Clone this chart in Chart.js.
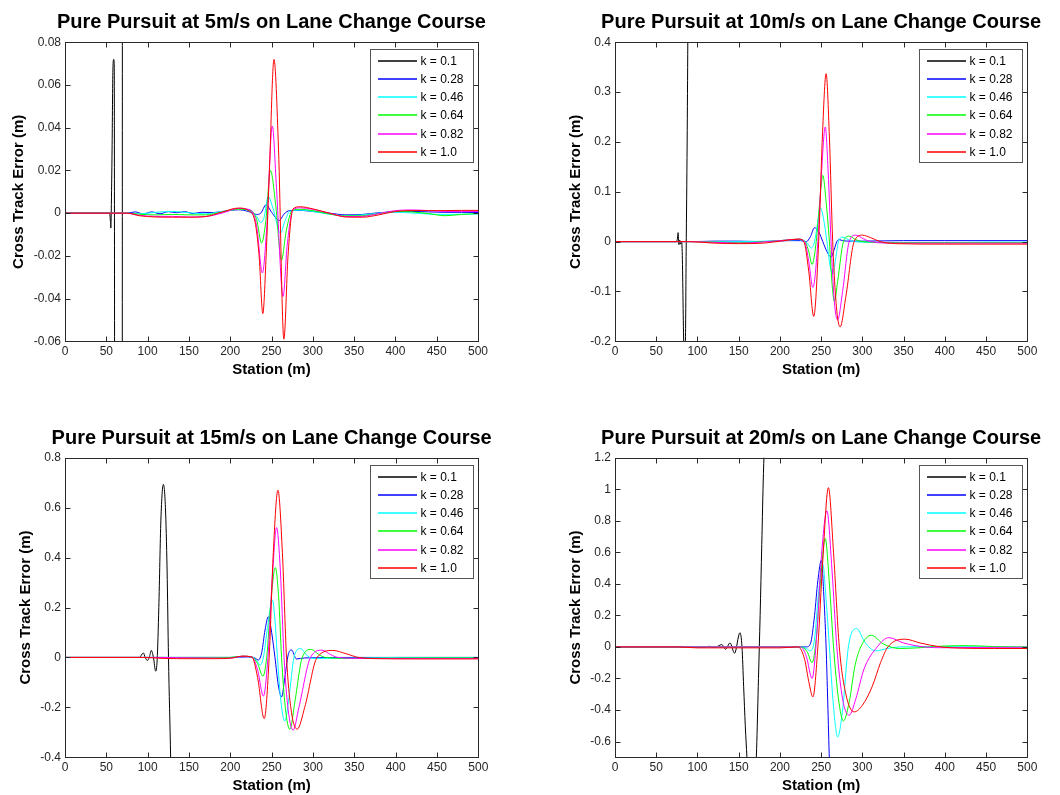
<!DOCTYPE html>
<html>
<head>
<meta charset="utf-8">
<script src="https://cdn.jsdelivr.net/npm/chart.js@4"></script>
<style>
  html, body { margin: 0; padding: 0; background: #fff; overflow: hidden; }
  canvas { position: absolute; }
</style>
</head>
<body>
<canvas id="c5" width="530" height="397" style="left:0;top:0"></canvas>
<canvas id="c10" width="530" height="397" style="left:530px;top:0"></canvas>
<canvas id="c15" width="530" height="398" style="left:0;top:397px"></canvas>
<canvas id="c20" width="530" height="398" style="left:530px;top:397px"></canvas>
<script>
// tick labels
const X_TICKS = [0, 50, 100, 150, 200, 250, 300, 350, 400, 450, 500];
const Y_TICKS_5 = [-0.06, -0.04, -0.02, 0, 0.02, 0.04, 0.06, 0.08];
const Y_TICKS_10 = [-0.2, -0.1, 0, 0.1, 0.2, 0.3, 0.4];
const Y_TICKS_15 = [-0.4, -0.2, 0, 0.2, 0.4, 0.6, 0.8];
const Y_TICKS_20 = [-0.6, -0.4, -0.2, 0, 0.2, 0.4, 0.6, 0.8, 1, 1.2];
const K_LABELS = ['k = 0.1', 'k = 0.28', 'k = 0.46', 'k = 0.64', 'k = 0.82', 'k = 1.0'];
const K_COLORS = ['#000000', '#0000ff', '#00ffff', '#00ff00', '#ff00ff', '#ff0000'];

// ---- 5 m/s : station (m) / cross track error (m)
const st5_k10 = [0, 54, 55, 55.5, 56, 57, 58, 59, 59.6, 60.5, 64, 69.2, 69.6, 74];
const ct5_k10 = [0, 0, -0.004, -0.007, 0.001, 0.03, 0.067, 0.072, 0.07, -0.3, -0.6, -0.3, 0.3, 0.6];
const st5_k28 = [0, 75, 85, 95, 105, 115, 125, 135, 145, 155, 165, 180, 195, 210, 222, 232, 237, 243.5, 250, 259.5, 265, 272, 285, 300, 320, 340, 360, 380, 400, 420, 440, 460, 480, 500];
const ct5_k28 = [0, 0, 0.0006, -0.0004, 0.0006, -0.0003, 0.0007, 0.0002, 0.0007, -0.0002, 0.0004, 0.0003, 0.001, 0.0016, 0.0008, -0.0006, 0, 0.0039, 0.0005, -0.0034, -0.0005, 0.0012, 0.0013, 0.0008, 0, -0.0008, -0.0006, 0.0002, 0.0006, 0.0008, 0.0006, 0.0004, 0.0004, 0.0003];
const st5_k46 = [0, 75, 90, 110, 130, 150, 170, 190, 210, 225, 232, 236.8, 241, 246, 252, 260.8, 266, 272, 285, 300, 320, 340, 360, 380, 400, 420, 440, 460, 480, 500];
const ct5_k46 = [0, 0, -0.0003, 0.0004, 0.0008, 0.0002, -0.0003, 0.0008, 0.0018, 0.001, -0.0015, -0.0044, -0.002, 0.0078, 0.002, -0.0094, -0.004, 0.0008, 0.0014, 0.0008, -0.0005, -0.0012, -0.0008, 0, 0.0004, 0.0001, -0.0004, -0.0006, -0.0005, -0.0004];
const st5_k64 = [0, 75, 90, 110, 130, 150, 170, 190, 210, 225, 232, 238, 243, 248.8, 255, 262, 268, 275, 285, 300, 320, 340, 360, 380, 400, 420, 440, 460, 480, 500];
const ct5_k64 = [0, 0, -0.0005, -0.0008, -0.0006, -0.0008, -0.0008, 0.0005, 0.0018, 0.0012, -0.003, -0.014, -0.004, 0.02, 0.004, -0.022, -0.008, 0.0012, 0.0018, 0.0012, -0.0004, -0.0013, -0.0012, -0.0002, 0.0008, 0.0006, -0.0002, -0.0012, -0.0006, -0.0002];
const st5_k82 = [0, 75, 90, 110, 130, 150, 170, 190, 210, 225, 232, 239, 244, 251, 256, 264, 269, 276, 285, 300, 320, 340, 360, 380, 400, 420, 440, 460, 480, 500];
const ct5_k82 = [0, 0, -0.001, -0.0015, -0.0015, -0.0018, -0.0016, 0, 0.0022, 0.0014, -0.006, -0.028, -0.008, 0.0408, 0.012, -0.039, -0.015, 0.0015, 0.0025, 0.0018, 0, -0.0016, -0.0015, -0.0002, 0.0012, 0.0015, 0.0012, 0.0008, 0.0008, 0.0008];
const st5_k100 = [0, 75, 90, 110, 130, 150, 170, 190, 210, 222, 230, 235, 239.5, 243.5, 247.5, 253, 258.5, 265, 270, 276, 285, 300, 320, 340, 360, 380, 400, 420, 440, 460, 480, 500];
const ct5_k100 = [0, 0, -0.0012, -0.0018, -0.0019, -0.0019, -0.0016, 0.0005, 0.0024, 0.0012, -0.004, -0.02, -0.047, -0.02, 0.02, 0.072, 0.03, -0.059, -0.02, 0.002, 0.003, 0.002, 0, -0.0018, -0.0019, -0.0008, 0.0008, 0.0012, 0.0012, 0.0012, 0.0013, 0.0013];

// ---- 10 m/s
const st10_k10 = [0, 74, 75.5, 76.5, 77.5, 78.5, 79.5, 80.5, 81.5, 83.3, 84.5, 85.5, 86.3, 87.5, 88.3, 90];
const ct10_k10 = [0, 0, 0.004, 0.018, -0.006, 0.003, -0.005, 0, -0.02, -0.2, -0.25, -0.19, -0.02, 0.2, 0.4, 0.8];
const st10_k28 = [0, 95, 120, 150, 180, 210, 225, 232, 237, 242, 247, 252, 257, 262, 266, 269, 272, 276, 285, 300, 350, 400, 450, 500];
const ct10_k28 = [0, 0, 0.001, 0.001, 0, 0.002, 0.002, 0, 0.01, 0.028, 0.02, 0, -0.02, -0.031, -0.015, 0, 0.004, 0.002, 0.001, 0.001, 0.002, 0.002, 0.002, 0.002];
const st10_k46 = [0, 95, 150, 200, 222, 230, 234, 238, 242, 245.5, 249, 253, 257, 260.5, 264, 268, 271, 276, 283, 290, 330, 400, 450, 500];
const ct10_k46 = [0, 0, 0, 0.002, 0.004, 0.001, -0.005, -0.013, 0, 0.035, 0.068, 0.045, 0, -0.045, -0.065, -0.03, 0, 0.009, 0.004, 0, -0.002, -0.002, -0.001, -0.001];
const st10_k64 = [0, 95, 150, 200, 222, 230, 235, 239, 244, 248, 252, 256, 260, 263, 266, 270, 277, 284, 292, 300, 340, 400, 450, 500];
const ct10_k64 = [0, 0, -0.002, 0.002, 0.005, 0.001, -0.02, -0.046, 0, 0.075, 0.133, 0.08, 0, -0.08, -0.12, -0.08, 0, 0.011, 0.004, 0, -0.002, -0.002, -0.002, -0.002];
const st10_k82 = [0, 95, 150, 200, 222, 230, 235, 240, 246, 250.5, 255, 258.5, 262, 266, 270, 276, 284, 292, 301, 310, 340, 400, 450, 500];
const ct10_k82 = [0, 0, -0.003, 0.002, 0.005, 0, -0.04, -0.092, 0, 0.14, 0.23, 0.14, 0, -0.12, -0.157, -0.1, 0, 0.013, 0.006, 0, -0.003, -0.003, -0.003, -0.003];
const st10_k100 = [0, 90, 120, 150, 180, 205, 222, 229, 235, 241, 247, 251.5, 256, 260, 264, 268.5, 273, 280, 290, 300, 310, 322, 340, 400, 450, 500];
const ct10_k100 = [0, 0, -0.003, -0.004, -0.003, 0.002, 0.005, 0, -0.06, -0.15, 0, 0.21, 0.337, 0.21, 0, -0.13, -0.171, -0.11, 0, 0.013, 0.008, 0, -0.004, -0.005, -0.005, -0.005];

// ---- 15 m/s
const st15_k10 = [0, 90, 94.8, 97, 99.6, 102, 104.4, 107, 109.7, 111.5, 113.5, 116, 119, 121.5, 123.5, 125.2, 127.8, 130];
const ct15_k10 = [0, 0, 0.018, 0, -0.012, 0, 0.028, 0, -0.055, -0.01, 0.2, 0.55, 0.693, 0.6, 0.35, 0, -0.4, -0.8];
const st15_k28 = [0, 110, 150, 200, 220, 228, 234, 238, 242, 246, 250, 254, 258, 262, 266, 270, 274, 280, 290, 350, 400, 450, 500];
const ct15_k28 = [0, 0, 0, 0, 0.002, 0, -0.01, 0.02, 0.11, 0.163, 0.1, 0, -0.11, -0.158, -0.08, 0.01, 0.03, -0.006, -0.002, 0, 0, 0, 0];
const st15_k46 = [0, 110, 200, 215, 226, 232, 236, 240, 245, 251, 254, 257, 261, 266, 271, 277, 285, 292, 300, 350, 400, 450, 500];
const ct15_k46 = [0, 0, 0, 0.004, 0.002, -0.012, -0.031, 0, 0.12, 0.23, 0.15, 0, -0.17, -0.255, -0.16, 0, 0.036, 0.01, -0.004, -0.003, 0, 0, 0];
const st15_k64 = [0, 110, 200, 215, 226, 233, 239.5, 244, 249, 254.4, 258.5, 262, 266.5, 272, 278, 287, 298, 307, 315, 350, 400, 450, 500];
const ct15_k64 = [0, 0, 0, 0.005, 0.002, -0.025, -0.075, 0, 0.22, 0.36, 0.24, 0, -0.2, -0.288, -0.18, 0, 0.032, 0.012, 0, -0.004, -0.003, -0.002, -0.002];
const st15_k82 = [0, 110, 200, 215, 226, 233, 240, 245.5, 251, 256, 260.5, 265, 270, 276, 283, 297, 311, 321, 330, 360, 400, 450, 500];
const ct15_k82 = [0, 0, -0.003, 0.005, 0.002, -0.05, -0.155, 0, 0.33, 0.52, 0.35, 0, -0.21, -0.291, -0.2, 0, 0.029, 0.012, 0, -0.004, -0.004, -0.004, -0.004];
const st15_k100 = [0, 93, 120, 150, 180, 200, 215, 226, 233, 241, 247, 252, 257.6, 263, 268, 274, 281, 290, 305, 324, 340, 355, 380, 420, 460, 500];
const ct15_k100 = [0, 0, -0.004, -0.005, -0.005, -0.003, 0.005, 0.002, -0.08, -0.245, 0, 0.42, 0.67, 0.42, 0, -0.22, -0.287, -0.2, 0, 0.028, 0.015, 0, -0.005, -0.006, -0.006, -0.006];

// ---- 20 m/s
const st20_k10 = [0, 75, 100, 110, 115, 120, 125, 129.5, 134, 139.5, 145, 151.5, 154, 156, 158, 160, 163, 167, 170, 172, 174, 176, 178, 180, 183];
const ct20_k10 = [0, 0, -0.004, 0, 0.004, -0.004, 0.005, 0.015, -0.015, 0.025, -0.04, 0.09, 0, -0.25, -0.5, -0.7, -1.0, -1.1, -0.9, -0.6, -0.2, 0.2, 0.65, 1.1, 1.5];
const st20_k28 = [0, 150, 200, 225, 232, 237, 242, 246, 250.4, 253, 256, 258, 260, 262];
const ct20_k28 = [0, 0, 0, 0, 0, 0.02, 0.2, 0.42, 0.55, 0.35, 0, -0.35, -0.72, -1.0];
const st20_k46 = [0, 150, 200, 225, 232, 237, 242, 247, 252, 256, 260, 265, 270, 276, 283, 293, 303, 316, 330, 345, 400, 450, 500];
const ct20_k46 = [0, 0, 0, 0, -0.01, -0.025, 0.05, 0.35, 0.524, 0.3, 0, -0.38, -0.571, -0.4, 0, 0.116, 0.03, -0.025, -0.01, 0, 0.002, 0, 0];
const st20_k64 = [0, 150, 200, 225, 233, 239, 244, 249, 255, 260, 265, 271, 277, 284, 291, 298, 311, 325, 345, 370, 400, 430, 460, 500];
const ct20_k64 = [0, 0, 0, 0, -0.03, -0.1, 0.05, 0.4, 0.687, 0.4, 0, -0.33, -0.469, -0.35, -0.12, 0, 0.074, 0.02, -0.01, -0.005, 0.006, 0.008, 0.002, 0];
const st20_k82 = [0, 150, 200, 225, 232, 239, 245, 250, 257, 263, 269, 276, 284, 292, 302, 318, 332, 350, 375, 400, 450, 500];
const ct20_k82 = [0, 0, 0, 0, -0.06, -0.2, 0.1, 0.55, 0.863, 0.5, 0, -0.33, -0.433, -0.33, -0.14, 0, 0.059, 0.025, 0, -0.005, -0.003, -0.002];
const st20_k100 = [0, 75, 100, 150, 200, 222, 230, 235, 240, 246, 252, 258.8, 265, 272, 280, 290, 300, 312, 322, 331, 352, 370, 395, 420, 460, 500];
const ct20_k100 = [0, 0, -0.006, -0.006, -0.006, 0, -0.08, -0.22, -0.317, 0, 0.55, 1.01, 0.6, 0, -0.3, -0.412, -0.37, -0.25, -0.1, 0, 0.049, 0.025, 0, -0.008, -0.01, -0.01];

const FONT = "'Liberation Sans', Arial, sans-serif";

// box, inside ticks, legend and title drawn the MATLAB way
const matlabAxes = {
  id: 'matlabAxes',
  afterDraw(chart, args, opts) {
    const { ctx, chartArea: a, scales: { x, y } } = chart;
    const L = Math.round(a.left) + 0.5, R = Math.round(a.right) + 0.5;
    const T = Math.round(a.top) + 0.5, B = Math.round(a.bottom) + 0.5;
    ctx.save();
    ctx.strokeStyle = '#2a2a2a';
    ctx.lineWidth = 1;
    ctx.beginPath();
    x.ticks.forEach(t => {
      const px = Math.round(x.getPixelForValue(t.value)) + 0.5;
      ctx.moveTo(px, B); ctx.lineTo(px, B - 5);
      ctx.moveTo(px, T); ctx.lineTo(px, T + 5);
    });
    y.ticks.forEach(t => {
      const py = Math.round(y.getPixelForValue(t.value)) + 0.5;
      ctx.moveTo(L, py); ctx.lineTo(L + 5, py);
      ctx.moveTo(R, py); ctx.lineTo(R - 5, py);
    });
    ctx.stroke();
    ctx.strokeRect(L, T, R - L, B - T);

    // legend
    const bw = 103, bh = 113;
    const bx = Math.round(a.right - 5 - bw) + 0.5, by = Math.round(a.top + 7) + 0.5;
    ctx.fillStyle = '#fff';
    ctx.fillRect(bx, by, bw, bh);
    ctx.strokeStyle = '#555';
    ctx.strokeRect(bx, by, bw, bh);
    ctx.font = '12px ' + FONT;
    ctx.textBaseline = 'middle';
    ctx.textAlign = 'left';
    chart.data.datasets.forEach((ds, i) => {
      const ly = Math.round(by + 11.3 + i * 18.2);
      ctx.strokeStyle = ds.borderColor;
      ctx.lineWidth = 1.6;
      ctx.beginPath();
      ctx.moveTo(bx + 7.5, ly); ctx.lineTo(bx + 46.5, ly);
      ctx.stroke();
      ctx.fillStyle = '#000';
      ctx.fillText(ds.label, bx + 50, ly + 0.5);
    });

    // title
    ctx.font = 'bold 20px ' + FONT;
    ctx.textAlign = 'center';
    ctx.fillStyle = '#000';
    ctx.fillText(opts.text, (a.left + a.right) / 2, opts.y);
    ctx.restore();
  }
};

function makeSeries(stations, errors) {
  return stations.map((s, i) => ({ x: s, y: errors[i] }));
}

function buildChart(id, title, stations, errors, yMin, yMax, yTicks, lay) {
  const datasets = stations.map((st, i) => ({
    label: K_LABELS[i],
    data: makeSeries(st, errors[i]),
    borderColor: K_COLORS[i],
    borderWidth: 1,
    pointRadius: 0,
    fill: false,
    cubicInterpolationMode: 'monotone',
    order: stations.length - i
  }));
  new Chart(document.getElementById(id), {
    type: 'line',
    data: { datasets: datasets },
    plugins: [matlabAxes],
    options: {
      responsive: false,
      animation: false,
      devicePixelRatio: 1,
      layout: { padding: { top: lay.top, left: 0, right: lay.right, bottom: 0 } },
      plugins: {
        legend: { display: false },
        tooltip: { enabled: false },
        matlabAxes: { text: title, y: lay.titleY }
      },
      scales: {
        x: {
          type: 'linear', min: 0, max: 500,
          afterBuildTicks: s => { s.ticks = X_TICKS.map(v => ({ value: v })); },
          afterFit: s => { s.height = lay.xh; },
          grid: { display: false, drawTicks: false },
          border: { display: false },
          ticks: { autoSkip: false, maxRotation: 0, padding: 3, color: '#262626', font: { size: 12, family: FONT } },
          title: { display: true, text: 'Station (m)', color: '#000', padding: { top: 0, bottom: lay.xtp }, font: { size: 15, weight: 'bold', family: FONT } }
        },
        y: {
          type: 'linear', min: yMin, max: yMax,
          afterBuildTicks: s => { s.ticks = yTicks.map(v => ({ value: v })); },
          afterFit: s => { s.width = lay.yw; },
          grid: { display: false, drawTicks: false },
          border: { display: false },
          ticks: { autoSkip: false, padding: 4, color: '#262626', font: { size: 12, family: FONT }, callback: v => String(v) },
          title: { display: true, text: 'Cross Track Error (m)', color: '#000', padding: { top: lay.ytp, bottom: 0 }, font: { size: 15, weight: 'bold', family: FONT } }
        }
      }
    }
  });
}

buildChart('c5', 'Pure Pursuit at 5m/s on Lane Change Course',
  [st5_k10, st5_k28, st5_k46, st5_k64, st5_k82, st5_k100],
  [ct5_k10, ct5_k28, ct5_k46, ct5_k64, ct5_k82, ct5_k100],
  -0.06, 0.08, Y_TICKS_5,
  { top: 42.3, right: 52, yw: 65, xh: 55.7, ytp: 9.5, xtp: 18.5, titleY: 22 });

buildChart('c10', 'Pure Pursuit at 10m/s on Lane Change Course',
  [st10_k10, st10_k28, st10_k46, st10_k64, st10_k82, st10_k100],
  [ct10_k10, ct10_k28, ct10_k46, ct10_k64, ct10_k82, ct10_k100],
  -0.2, 0.4, Y_TICKS_10,
  { top: 42.3, right: 32.7, yw: 85, xh: 55.7, ytp: 36.5, xtp: 18.5, titleY: 22.5 });

buildChart('c15', 'Pure Pursuit at 15m/s on Lane Change Course',
  [st15_k10, st15_k28, st15_k46, st15_k64, st15_k82, st15_k100],
  [ct15_k10, ct15_k28, ct15_k46, ct15_k64, ct15_k82, ct15_k100],
  -0.4, 0.8, Y_TICKS_15,
  { top: 60.7, right: 51.7, yw: 65, xh: 37.7, ytp: 16.5, xtp: 0.5, titleY: 41.3 });

buildChart('c20', 'Pure Pursuit at 20m/s on Lane Change Course',
  [st20_k10, st20_k28, st20_k46, st20_k64, st20_k82, st20_k100],
  [ct20_k10, ct20_k28, ct20_k46, ct20_k64, ct20_k82, ct20_k100],
  -0.7, 1.2, Y_TICKS_20,
  { top: 60.7, right: 32.7, yw: 85, xh: 37.7, ytp: 36.5, xtp: 0.5, titleY: 41.3 });
</script>
</body>
</html>
